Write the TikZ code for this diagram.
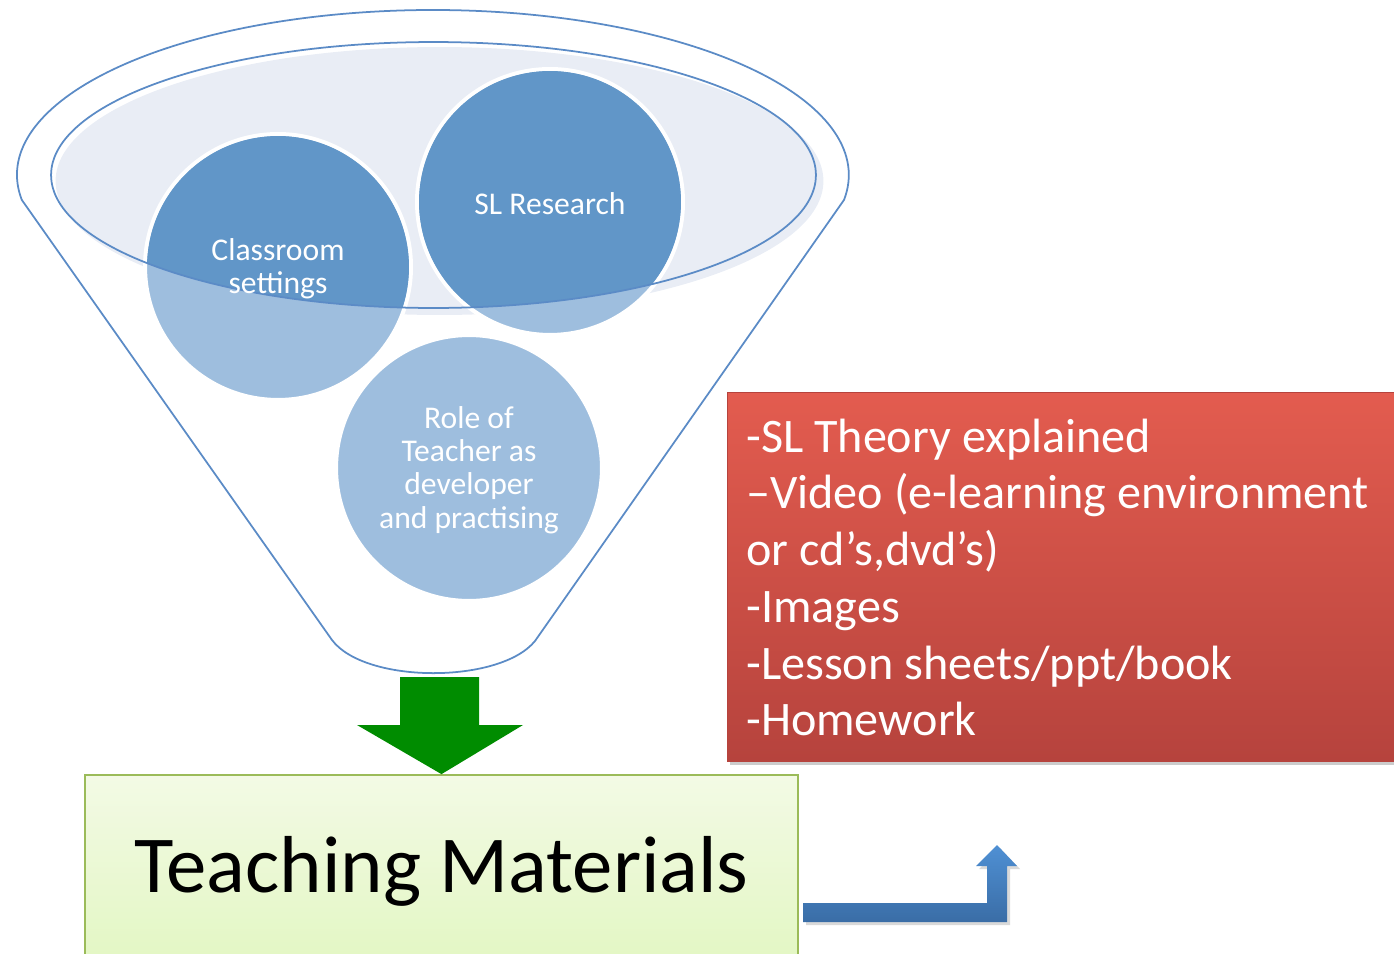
\documentclass[tikz,border=0pt]{standalone}
\usepackage{fontspec}
\setmainfont{Carlito}
\usetikzlibrary{positioning}
\definecolor{funnelblue}{HTML}{5B8BC6}
\definecolor{bowlfill}{HTML}{E9EDF5}
\definecolor{balldark}{HTML}{6196C8}
\definecolor{balllight}{HTML}{9EBEDE}
\definecolor{redtop}{HTML}{E35C4F}
\definecolor{redbottom}{HTML}{B6433D}
\definecolor{limetop}{HTML}{F3FAE5}
\definecolor{limebottom}{HTML}{E3F7C4}
\definecolor{limeline}{HTML}{9BBB59}
\definecolor{arrowgreen}{HTML}{008C00}
\definecolor{bluetop}{HTML}{4F90D4}
\definecolor{bluebottom}{HTML}{3A6DA6}

\tikzset{
  ball/.style={circle, draw=white, line width=2.3pt, fill=balllight, minimum size=5.32cm, inner sep=0pt},
  balltext/.style={text=white, font=\fontsize{18}{19}\selectfont, align=center},
  mediabox/.style={rectangle, draw=redbottom, top color=redtop, bottom color=redbottom, minimum width=13.46cm, minimum height=7.38cm},
  mediatext/.style={align=left, inner sep=0pt, text=white, font=\fontsize{27.4}{32.3}\selectfont},
  tmbox/.style={rectangle, draw=limeline, line width=1pt, top color=limetop, bottom color=limebottom, minimum width=14.26cm, minimum height=3.68cm, text depth=3pt, font=\fontsize{46}{54}\selectfont}
}

\begin{document}
\begin{tikzpicture}[x=0.02cm, y=0.02cm, yscale=-1]
    \useasboundingbox (0,0) rectangle (1394,954);

    \draw[funnelblue, line width=1pt] (21.8,199.9) arc[start angle=171.3, end angle=368.7, x radius=8.32cm, y radius=3.3cm]
        -- (535,641) .. controls (500,684) and (365,684) .. (332,640) -- cycle;
    \fill[bowlfill] (439.5,181) ellipse [x radius=7.68cm, y radius=2.68cm];

    \node[ball] (classroom) at (278,267) {};
    \node[ball] (research) at (550,202) {};
    \node[ball] (role) at (469,468) {};
    \begin{scope}
        \clip (433.5,175) ellipse [x radius=7.65cm, y radius=2.66cm];
        \fill[balldark] (classroom.center) circle (2.62cm);
        \fill[balldark] (research.center) circle (2.62cm);
    \end{scope}
    \draw[funnelblue, line width=1pt] (433.5,175) ellipse [x radius=7.65cm, y radius=2.66cm];
    \node[balltext] (classroomtext) at (278,269) {Classroom\\settings};
    \node[balltext] (researchtext) at (550,204) {SL Research};
    \node[balltext] (roletext) at (469,470) {Role of\\Teacher as\\developer\\and practising};

    \fill[black, opacity=.2] (730,396) rectangle (1400,765);
    \node[mediabox] (media) at (1063.5,576.5) {};
    \node[mediatext, anchor=west] (mediatext) at (746,577.5) {-SL Theory explained\\--Video (e-learning environment\\or cd's,dvd's)\\-Images\\-Lesson sheets/ppt/book\\-Homework};

    \node[tmbox] (materials) at (441.5,867) {Teaching Materials};

    \fill[arrowgreen] (400,677) -- (479,677) -- (479,725) -- (523,725) -- (materials.north) -- (357,725) -- (400,725) -- cycle;

    \fill[black, opacity=.15] (806,906) -- (990,906) -- (990,869) -- (979,869) -- (1000,848) -- (1020,869) -- (1010,869) -- (1010,925) -- (806,925) -- cycle;
    \path[top color=bluetop, bottom color=bluebottom] (803,903) -- (987,903) -- (987,866) -- (976,866) -- (997,845) -- (1017,866) -- (1007,866) -- (1007,922) -- (803,922) -- cycle;
\end{tikzpicture}
\end{document}
